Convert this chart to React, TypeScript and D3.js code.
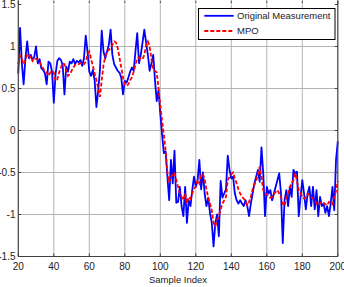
import React from 'react';
import * as d3 from 'd3';

// samples 20..200
const firstSample = 20;

const measurement = [
  0.68, 1.22, 0.8, 0.55, 0.86, 1.06, 0.86, 0.9, 0.84, 0.88,
  1.0, 0.8, 0.85, 0.74, 0.72, 0.68, 0.55, 0.82, 0.8, 0.7,
  0.33, 0.67, 0.83, 0.86, 0.84, 0.78, 0.43, 0.76, 0.7, 0.82,
  0.8, 0.85, 0.79, 0.83, 0.81, 0.84, 0.77, 0.86, 1.13, 0.94,
  0.7, 0.65, 0.72, 0.6, 0.28, 0.47, 0.72, 1.19, 0.94, 0.86,
  0.94, 1.02, 1.2, 0.9, 0.79, 0.75, 0.71, 0.69, 0.63, 0.43,
  0.59, 0.57, 0.63, 0.7, 0.75, 0.71, 0.94, 1.16, 0.8, 0.9,
  1.05, 1.2, 1.05, 0.9, 0.71, 0.8, 0.9, 0.6, 0.35, 0.48,
  0.2, -0.05, -0.27, -0.25, -0.55, -0.83, -0.35, -0.63, -0.24, -0.86,
  -0.85, -0.67, -0.9, -1.02, -0.67, -1.1, -0.83, -0.9, -0.71, -0.55,
  -0.67, -0.6, -0.35, -0.7, -0.5, -0.75, -0.9, -0.8, -0.98, -1.1,
  -1.38, -1.1, -1.0, -1.26, -0.6, -0.8, -0.75, -0.7, -0.3, -0.47,
  -0.57, -0.55, -0.75, -0.83, -0.87, -0.83, -0.87, -0.9, -0.83, -0.9,
  -1.02, -0.87, -0.75, -0.63, -0.55, -0.47, -0.61, -0.2, -0.51, -1.02,
  -0.67, -0.75, -0.71, -0.83, -0.75, -0.67, -0.59, -0.51, -0.75, -1.34,
  -0.83, -0.71, -0.9, -0.67, -0.79, -0.47, -0.51, -0.49, -1.02, -0.79,
  -0.59, -0.75, -0.94, -0.75, -0.67, -0.9, -0.67, -0.94, -0.71, -1.02,
  -0.79, -0.9, -0.87, -0.98, -0.9, -1.02, -0.87, -0.67, -0.95, -0.35,
  -0.13
];

const mpo = [
  0.79, 0.89, 0.85, 0.79, 0.83, 0.91, 0.89, 0.87, 0.83, 0.87,
  0.85, 0.84, 0.82, 0.77, 0.74, 0.7, 0.69, 0.65, 0.69, 0.71,
  0.69, 0.59, 0.61, 0.69, 0.75, 0.8, 0.79, 0.71, 0.65, 0.67,
  0.71, 0.75, 0.78, 0.79, 0.79, 0.8, 0.81, 0.79, 0.82, 0.9,
  0.94, 0.85, 0.77, 0.68, 0.6, 0.5, 0.4, 0.6, 0.78, 0.88,
  0.94, 0.96, 0.98, 1.02, 1.06, 1.05, 0.98, 0.87, 0.75, 0.63,
  0.55, 0.53, 0.55, 0.6, 0.63, 0.7, 0.78, 0.86, 0.87, 0.85,
  0.85, 0.9, 1.02, 1.06, 1.0, 0.85, 0.73, 0.71, 0.69, 0.5,
  0.3, 0.12, -0.05, -0.24, -0.5, -0.62, -0.55, -0.53, -0.5, -0.59,
  -0.67, -0.75, -0.79, -0.83, -0.75, -0.87, -0.79, -0.81, -0.75, -0.69,
  -0.67, -0.59, -0.63, -0.53, -0.52, -0.58, -0.7, -0.8, -0.87, -0.95,
  -1.1, -1.14, -1.06, -1.02, -0.94, -0.87, -0.83, -0.79, -0.59, -0.55,
  -0.52, -0.5, -0.57, -0.63, -0.7, -0.75, -0.79, -0.81, -0.85, -0.89,
  -0.85, -0.79, -0.7, -0.65, -0.6, -0.52, -0.43, -0.55, -0.71, -0.75,
  -0.76, -0.79, -0.8, -0.79, -0.76, -0.73, -0.71, -0.75, -0.79, -0.87,
  -0.9, -0.79, -0.75, -0.67, -0.63, -0.59, -0.51, -0.6, -0.71, -0.75,
  -0.79, -0.81, -0.79, -0.75, -0.77, -0.79, -0.81, -0.83, -0.87, -0.89,
  -0.87, -0.85, -0.86, -0.88, -0.89, -0.85, -0.87, -0.88, -0.79, -0.72,
  -0.6
];

const xTicks = [20, 40, 60, 80, 100, 120, 140, 160, 180, 200];
const yTicks = [-1.5, -1, -0.5, 0, 0.5, 1, 1.5];
const seriesNames = ['Original Measurement', 'MPO'];
const xLabel = 'Sample Index';

const font = '"Liberation Sans", Arial, sans-serif';

export default function App() {
  const width = 344;
  const height = 287;
  const left = 18.3;
  const right = 337.8;
  const top = 4.5;
  const bottom = 256.5;

  const x = d3.scaleLinear().domain([20, 200]).range([left, right]);
  const y = d3.scaleLinear().domain([-1.5, 1.5]).range([bottom, top]);

  const line = d3.line<number>()
    .x((d, i) => x(firstSample + i))
    .y(d => y(d));

  const tick = 3;
  const axisColor = '#404040';
  const gridColor = '#b4b4b4';

  return (
    <svg width={width} height={height} style={{ position: 'absolute', left: 0, top: 0 }} fontFamily={font}>
      <rect x={0} y={0} width={width} height={height} fill="#fff" />

      {/* grid */}
      {xTicks.slice(1, -1).map(t => (
        <line key={'gx' + t} x1={x(t)} x2={x(t)} y1={top} y2={bottom} stroke={gridColor} strokeWidth={1} />
      ))}
      {yTicks.slice(1, -1).map(t => (
        <line key={'gy' + t} x1={left} x2={right} y1={y(t)} y2={y(t)} stroke={gridColor} strokeWidth={1} />
      ))}

      {/* data */}
      <path d={line(measurement) || ''} fill="none" stroke="#0000ff" strokeWidth={1.8} strokeLinejoin="round" />
      <path d={line(mpo) || ''} fill="none" stroke="#ff0000" strokeWidth={1.8} strokeDasharray="4,2" />

      {/* frame */}
      <line x1={left} x2={left} y1={top - 4} y2={bottom} stroke={axisColor} strokeWidth={1.2} />
      <line x1={left} x2={right} y1={bottom} y2={bottom} stroke={axisColor} strokeWidth={1.2} />
      <line x1={right} x2={right} y1={top - 4} y2={bottom} stroke={axisColor} strokeWidth={1.2} />

      {/* ticks */}
      {xTicks.map(t => (
        <g key={'tx' + t}>
          <line x1={x(t)} x2={x(t)} y1={bottom} y2={bottom - tick} stroke={axisColor} />
          <line x1={x(t)} x2={x(t)} y1={top - 4} y2={top - 4 + tick} stroke={axisColor} />
          <text x={x(t)} y={270} fontSize={10} textAnchor="middle" fill="#222">{t}</text>
        </g>
      ))}
      {yTicks.map(t => (
        <g key={'ty' + t}>
          <line x1={left} x2={left + tick} y1={y(t)} y2={y(t)} stroke={axisColor} />
          <line x1={right} x2={right - tick} y1={y(t)} y2={y(t)} stroke={axisColor} />
          <text x={15.5} y={y(t)} dy="0.35em" fontSize={10} textAnchor="end" fill="#222">{t}</text>
        </g>
      ))}

      <text x={178} y={283} fontSize={9.5} textAnchor="middle" fill="#222">{xLabel}</text>

      {/* legend */}
      <g>
        <rect x={198.5} y={8.5} width={136.5} height={31} fill="#fff" stroke="#000" strokeWidth={1} />
        <line x1={204.3} x2={233.7} y1={15.8} y2={15.8} stroke="#0000ff" strokeWidth={1.8} />
        <text x={237} y={19.2} fontSize={9.5} fill="#222">{seriesNames[0]}</text>
        <line x1={204.3} x2={233.7} y1={31} y2={31} stroke="#ff0000" strokeWidth={1.8} strokeDasharray="4,2" />
        <text x={237} y={34.4} fontSize={9.5} fill="#222">{seriesNames[1]}</text>
      </g>
    </svg>
  );
}
